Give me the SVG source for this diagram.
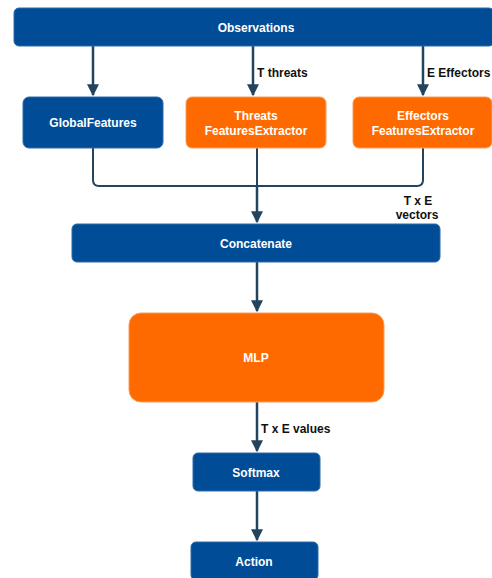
<svg xmlns="http://www.w3.org/2000/svg" width="492" height="578" viewBox="0 0 492 578">
<defs>
<style>
.blue{fill:#004C97;stroke:#2f6aa8;stroke-width:1}
.orange{fill:#FF6A00;stroke:#f0a060;stroke-width:1}
.t{font-family:"Liberation Sans",Arial,sans-serif;font-weight:bold;font-size:12px;fill:#fff;text-anchor:middle;dominant-baseline:central}
.lbl{font-family:"Liberation Sans",Arial,sans-serif;font-weight:bold;font-size:12px;fill:#111}
.c{fill:none;stroke:#23445D;stroke-width:2.5}
.cthin{fill:none;stroke:#23445D;stroke-width:2}
</style>
<marker id="ah" viewBox="0 0 10 10" refX="9" refY="5" markerWidth="4.8" markerHeight="4.8" orient="auto" markerUnits="strokeWidth">
<path d="M0,0 L10,5 L0,10 z" fill="#23445D"/>
</marker>
</defs>
<rect width="492" height="578" fill="#fff"/>
<g id="connectors">
<path class="c" d="M93,46 V95" marker-end="url(#ah)"/>
<path class="c" d="M253,46 V95" marker-end="url(#ah)"/>
<path class="c" d="M423,46 V95" marker-end="url(#ah)"/>
<path class="cthin" d="M93,148 V180 Q93,186 99,186 H417 Q423,186 423,180 V148"/>
<path class="cthin" d="M257,148 V186"/>
<path class="c" d="M257,186 V222" marker-end="url(#ah)"/>
<path class="c" d="M257,262 V311" marker-end="url(#ah)"/>
<path class="c" d="M257,402 V451" marker-end="url(#ah)"/>
<path class="c" d="M257,491 V540" marker-end="url(#ah)"/>
<text class="lbl" x="257" y="77">T threats</text>
<text class="lbl" x="427" y="77">E Effectors</text>
<text class="lbl" x="418" y="205" text-anchor="middle">T x E</text>
<text class="lbl" x="417" y="219" text-anchor="middle">vectors</text>
<text class="lbl" x="261" y="433">T x E values</text>
</g>
<g id="observations">
<rect class="blue" x="14" y="8" width="480" height="38" rx="5"/>
<text class="t" x="256" y="28">Observations</text>
</g>
<g id="globalfeatures">
<rect class="blue" x="23" y="97" width="140" height="51" rx="6"/>
<text class="t" x="93" y="123">GlobalFeatures</text>
</g>
<g id="threats">
<rect class="orange" x="186" y="97" width="140" height="51" rx="6"/>
<text class="t" x="256" y="116">Threats</text>
<text class="t" x="256" y="131">FeaturesExtractor</text>
</g>
<g id="effectors">
<rect class="orange" x="353" y="97" width="139" height="51" rx="6"/>
<text class="t" x="423" y="116">Effectors</text>
<text class="t" x="423" y="131">FeaturesExtractor</text>
</g>
<g id="concatenate">
<rect class="blue" x="72" y="224" width="368" height="38" rx="5"/>
<text class="t" x="256" y="244">Concatenate</text>
</g>
<g id="mlp">
<rect class="orange" x="129" y="313" width="255" height="89" rx="12"/>
<text class="t" x="256" y="358">MLP</text>
</g>
<g id="softmax">
<rect class="blue" x="193" y="453" width="127" height="38" rx="5"/>
<text class="t" x="256" y="473">Softmax</text>
</g>
<g id="action">
<rect class="blue" x="191" y="542" width="127" height="38" rx="5"/>
<text class="t" x="254" y="562">Action</text>
</g>
</svg>
